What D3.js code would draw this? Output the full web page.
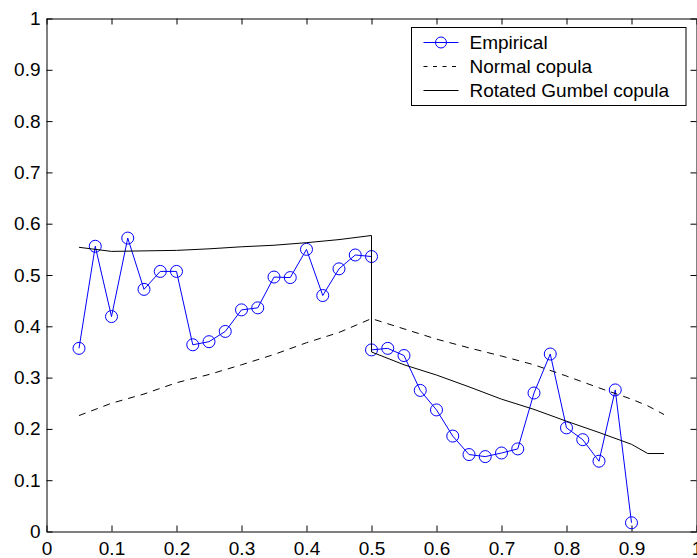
<!DOCTYPE html>
<html>
<head>
<meta charset="utf-8">
<script src="https://cdn.jsdelivr.net/npm/d3@7"></script>
<style>
  body { margin: 0; background: #fff; }
  svg { display: block; font-family: "Liberation Sans", Arial, sans-serif; }
  .axis path, .axis line { stroke: #000; stroke-width: 1; }
  .axis text { font-size: 19px; fill: #000; }
</style>
</head>
<body>
<div id="chart"></div>
<script>
// empirical points (lower half then upper half, both start at 0.5)
var empiricalU = [0.05, 0.075, 0.1, 0.125, 0.15, 0.175, 0.2, 0.225, 0.25, 0.275,
                  0.3, 0.325, 0.35, 0.375, 0.4, 0.425, 0.45, 0.475, 0.5,
                  0.5, 0.525, 0.55, 0.575, 0.6, 0.625, 0.65, 0.675, 0.7, 0.725,
                  0.75, 0.775, 0.8, 0.825, 0.85, 0.875, 0.9];
var empiricalV = [0.357, 0.556, 0.419, 0.572, 0.472, 0.507, 0.507, 0.364, 0.370, 0.390,
                  0.432, 0.436, 0.496, 0.495, 0.550, 0.460, 0.512, 0.539, 0.536,
                  0.354, 0.357, 0.343, 0.275, 0.237, 0.186, 0.150, 0.146, 0.153, 0.161,
                  0.270, 0.346, 0.202, 0.179, 0.137, 0.276, 0.017];

// fitted copulas
var copulaU = [0.05, 0.1, 0.15, 0.2, 0.25, 0.3, 0.35, 0.4, 0.45, 0.5,
               0.5, 0.55, 0.6, 0.65, 0.7, 0.75, 0.8, 0.85, 0.9, 0.925, 0.95];
var normalV = [0.226, 0.25, 0.268, 0.29, 0.306, 0.325, 0.345, 0.368, 0.388, 0.415,
               0.415, 0.395, 0.375, 0.358, 0.342, 0.325, 0.303, 0.28, 0.258, 0.245, 0.228];
var gumbelV = [0.554, 0.546, 0.547, 0.548, 0.551, 0.555, 0.558, 0.563, 0.569, 0.577,
               0.35, 0.325, 0.305, 0.282, 0.258, 0.238, 0.215, 0.193, 0.17, 0.152, 0.152];

var tickValues = [0, 0.1, 0.2, 0.3, 0.4, 0.5, 0.6, 0.7, 0.8, 0.9, 1];
var legendLabels = ["Empirical", "Normal copula", "Rotated Gumbel copula"];

var svgWidth = 697, svgHeight = 558;
var margin = {top: 18.5, right: 0.5, bottom: 26.5, left: 46.5};

var svg = d3.select("#chart").append("svg")
  .attr("width", svgWidth)
  .attr("height", svgHeight);

var x = d3.scaleLinear().domain([0, 1]).range([margin.left, svgWidth - margin.right]);
var y = d3.scaleLinear().domain([0, 1]).range([svgHeight - margin.bottom, margin.top]);

var fmt = d3.format("");

// axes, ticks pointing inward on all four sides
svg.append("g")
  .attr("class", "axis")
  .attr("transform", `translate(0, ${y(0)})`)
  .call(d3.axisBottom(x).tickValues(tickValues).tickFormat(fmt).tickSizeInner(-6).tickSizeOuter(0).tickPadding(10));

svg.append("g")
  .attr("class", "axis")
  .attr("transform", `translate(0, ${y(1)})`)
  .call(d3.axisTop(x).tickValues(tickValues).tickFormat("").tickSizeInner(-6).tickSizeOuter(0));

svg.append("g")
  .attr("class", "axis")
  .attr("transform", `translate(${x(0)}, 0)`)
  .call(d3.axisLeft(y).tickValues(tickValues).tickFormat(fmt).tickSizeInner(-6).tickSizeOuter(0).tickPadding(6));

svg.append("g")
  .attr("class", "axis")
  .attr("transform", `translate(${x(1)}, 0)`)
  .call(d3.axisRight(y).tickValues(tickValues).tickFormat("").tickSizeInner(-6).tickSizeOuter(0));

var line = d3.line()
  .x(d => x(d[0]))
  .y(d => y(d[1]));

var empirical = empiricalU.map((u, i) => [u, empiricalV[i]]);
var normal = copulaU.map((u, i) => [u, normalV[i]]);
var gumbel = copulaU.map((u, i) => [u, gumbelV[i]]);

svg.append("path")
  .datum(empirical)
  .attr("d", line)
  .attr("fill", "none")
  .attr("stroke", "#0000ff")
  .attr("stroke-width", 1);

svg.selectAll("circle.emp")
  .data(empirical)
  .enter()
  .append("circle")
  .attr("class", "emp")
  .attr("cx", d => x(d[0]))
  .attr("cy", d => y(d[1]))
  .attr("r", 6)
  .attr("fill", "none")
  .attr("stroke", "#0000ff")
  .attr("stroke-width", 1);

svg.append("path")
  .datum(normal)
  .attr("d", line)
  .attr("fill", "none")
  .attr("stroke", "#000")
  .attr("stroke-width", 1)
  .attr("stroke-dasharray", "7,6");

svg.append("path")
  .datum(gumbel)
  .attr("d", line)
  .attr("fill", "none")
  .attr("stroke", "#000")
  .attr("stroke-width", 1);

// legend
var legend = svg.append("g").attr("transform", "translate(411.5, 27.5)");

legend.append("rect")
  .attr("width", 274.5)
  .attr("height", 78)
  .attr("fill", "#fff")
  .attr("stroke", "#000")
  .attr("stroke-width", 1);

var rows = legend.selectAll("g.row")
  .data(legendLabels)
  .enter()
  .append("g")
  .attr("class", "row")
  .attr("transform", (d, i) => `translate(0, ${15 + i * 24})`);

rows.append("line")
  .attr("x1", 12).attr("x2", 47)
  .attr("y1", 0).attr("y2", 0)
  .attr("stroke", (d, i) => i === 0 ? "#0000ff" : "#000")
  .attr("stroke-width", 1)
  .attr("stroke-dasharray", (d, i) => i === 1 ? "4,5.5" : null);

rows.filter((d, i) => i === 0)
  .append("circle")
  .attr("cx", 29.5).attr("cy", 0).attr("r", 5.5)
  .attr("fill", "none")
  .attr("stroke", "#0000ff");

rows.append("text")
  .attr("x", 58)
  .attr("dy", "0.35em")
  .style("font-size", "19px")
  .text(d => d);
</script>
</body>
</html>
